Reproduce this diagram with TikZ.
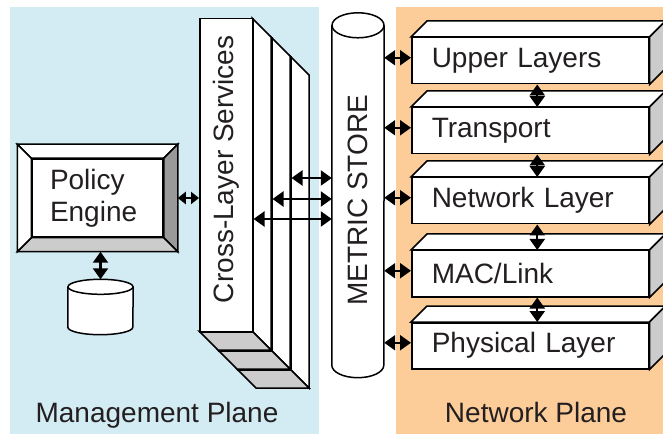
\documentclass[tikz,border=0pt]{standalone}
\usepackage{fontspec}
\setmainfont{Liberation Sans}
\usetikzlibrary{arrows.meta}
\usetikzlibrary{positioning,calc}

\definecolor{mgmtblue}{RGB}{211,235,243}
\definecolor{netorange}{RGB}{252,204,153}
\definecolor{lightside}{RGB}{204,204,204}
\definecolor{darkside}{RGB}{153,153,153}
\definecolor{txt}{RGB}{35,31,32}

\tikzset{
	face/.style={draw, line width=1.5pt, fill=white},
	lbl/.style={font=\fontsize{28}{32}\selectfont, text=txt},
	dbl/.style={{Triangle[length=11pt,width=15pt]}-{Triangle[length=11pt,width=15pt]}, line width=2.2pt},
	sdbl/.style={{Triangle[length=8pt,width=12pt]}-{Triangle[length=8pt,width=12pt]}, line width=2.2pt},
	layerbox/.style={face, lbl, minimum width=237pt, minimum height=46pt, text width=197pt, inner xsep=20pt, align=left, anchor=north west},
}

\begin{document}
\begin{tikzpicture}[x=1pt, y=-1pt]
			\useasboundingbox (0,0) rectangle (663,435);
			% the two planes
			\fill[mgmtblue] (10,7) rectangle (319,434);
			\fill[netorange] (396,7) rectangle (663,434);
			\node[lbl, anchor=base] (mgmt) at (157,422) {Management Plane};
			\node[lbl, anchor=base] (netp) at (536,422) {Network Plane};
			
			% cross-layer slabs, back to front
			\foreach \i in {2,1,0}{
				\begin{scope}[shift={(19*\i,19*\i)}]
					\draw[face] (252,18) -- (271,37) -- (271,350) -- (252,331) -- cycle;
					\draw[face, fill=lightside] (199,331) -- (252,331) -- (271,350) -- (218,350) -- cycle;
					\node[face, minimum width=53pt, minimum height=313pt, inner sep=0, anchor=north west] (slab\i) at (199,18) {};
				\end{scope}
			}
			\node[lbl, rotate=90] at ([yshift=6pt]slab0.center) {Cross-Layer Services};
			
			% metric store
			\node[minimum width=52pt, minimum height=339.5pt, inner sep=0] (store) at (358,195.25) {};
			\draw[face] (store.north west) -- (store.south west) arc[start angle=180, end angle=360, x radius=26pt, y radius=12.5pt] -- (store.north east);
			\draw[face] (store.north) ellipse [x radius=26pt, y radius=12.5pt];
			\node[lbl, rotate=90] at ([yshift=-5pt]store.center) {METRIC STORE};
			\foreach \i/\yy in {0/219, 1/199, 2/178}
				\draw[dbl] (slab\i.east |- 0,\yy) -- (store.west |- 0,\yy);
			
			% policy engine with bevelled frame
			\node[face, lbl, minimum width=131pt, minimum height=78pt, text width=95pt, inner xsep=18pt, align=left] (policy) at (97.5,198) {\raisebox{-3pt}{Policy}\\\raisebox{-3pt}{Engine}};
			\coordinate (po-nw) at ($(policy.north west)+(-14,-14)$);
			\coordinate (po-ne) at ($(policy.north east)+(14,-14)$);
			\coordinate (po-se) at ($(policy.south east)+(14,14)$);
			\coordinate (po-sw) at ($(policy.south west)+(-14,14)$);
			\draw[face] (po-nw) -- (po-ne) -- (policy.north east) -- (policy.north west) -- cycle;
			\draw[face, fill=darkside] (po-ne) -- (po-se) -- (policy.south east) -- (policy.north east) -- cycle;
			\draw[face, fill=lightside] (po-se) -- (po-sw) -- (policy.south west) -- (policy.south east) -- cycle;
			\draw[face] (po-sw) -- (po-nw) -- (policy.north west) -- (policy.south west) -- cycle;
			\draw[sdbl] (po-ne |- policy.east) -- (slab0.west |- policy.east);
			
			% database
			\node[minimum width=65pt, minimum height=40pt, inner sep=0] (disk) at (100.5,307) {};
			\draw[face] (disk.north west) -- (disk.south west) arc[start angle=180, end angle=360, x radius=32.5pt, y radius=7.5pt] -- (disk.north east);
			\draw[face] (disk.north) ellipse [x radius=32.5pt, y radius=7.5pt];
			\draw[dbl] (disk.north |- po-sw) -- ([yshift=7.5pt]disk.north);
			
			% protocol stack
			\foreach \nm/\txt/\yy in {ul/Upper Layers/37, tp/Transport/107, nl/Network Layer/177, ml/{MAC/Link}/250, pl/Physical Layer/322}{
				\node[layerbox] (\nm) at (411,\yy) {\txt};
				\draw[face] (\nm.north west) -- ++(16,-16) -- ($(\nm.north east)+(16,-16)$) -- (\nm.north east) -- cycle;
				\draw[face, fill=lightside] (\nm.north east) -- ++(16,-16) -- ($(\nm.south east)+(16,-16)$) -- (\nm.south east) -- cycle;
				\draw[dbl] ($(store.east |- \nm.west)+(0,-3)$) -- ($(\nm.west)+(0,-3)$);
			}
			\foreach \a/\b in {ul/tp, tp/nl, nl/ml, ml/pl}
				\draw[dbl] ([xshift=7pt]\a.south) -- ([xshift=7pt]\b.north);
			
		\end{tikzpicture}
\end{document}
